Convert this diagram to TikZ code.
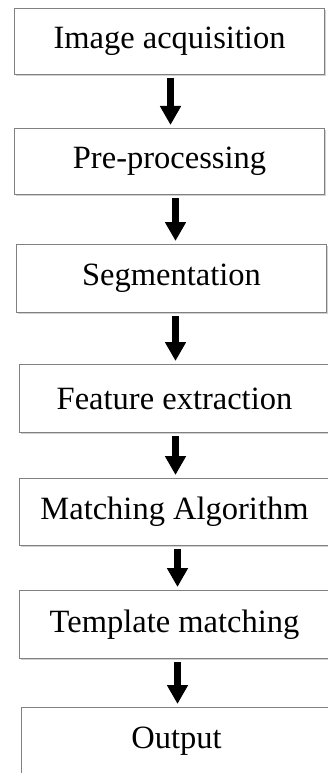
\documentclass[tikz,border=0pt]{standalone}
\usepackage{fontspec}
\setmainfont{Liberation Serif}
\usetikzlibrary{arrows.meta,shadows}
\begin{document}
\begin{tikzpicture}[x=1pt,y=-1pt,
  box/.style={draw=black!50, line width=1pt, fill=white, inner sep=0pt,
    minimum width=310pt, anchor=north west,
    drop shadow={shadow xshift=1.2pt, shadow yshift=-1.8pt, opacity=0.3, fill=black!60},
    font=\fontsize{32.5}{32.5}\selectfont},
  arr/.style={line width=7pt, -{Triangle[width=20pt,length=19pt]}, shorten <=3pt, shorten >=3pt}
]
\useasboundingbox (0,0) rectangle (328,773);
\node[box, minimum height=66pt] (b1) at (14,8) {Image acquisition};
\node[box, minimum height=66pt] (b2) at (14,128) {Pre-processing};
\node[box, minimum height=68pt] (b3) at (16,244) {Segmentation};
\node[box, minimum height=68pt] (b4) at (19,364) {Feature extraction};
\node[box, minimum height=67pt] (b5) at (19,478) {Matching Algorithm};
\node[box, minimum height=68pt] (b6) at (19,590) {Template matching};
\node[box, minimum height=68pt] (b7) at (21,707) {Output};
\draw[arr] ([xshift=1pt]b1.south) -- ([xshift=1pt]b2.north);
\draw[arr] ([xshift=6pt]b2.south) -- ([xshift=4pt]b3.north);
\draw[arr] ([xshift=4pt]b3.south) -- ([xshift=1pt]b4.north);
\draw[arr] ([xshift=1pt]b4.south) -- ([xshift=1pt]b5.north);
\draw[arr] ([xshift=3pt]b5.south) -- ([xshift=3pt]b6.north);
\draw[arr] ([xshift=3pt]b6.south) -- ([xshift=1pt]b7.north);
\end{tikzpicture}
\end{document}
